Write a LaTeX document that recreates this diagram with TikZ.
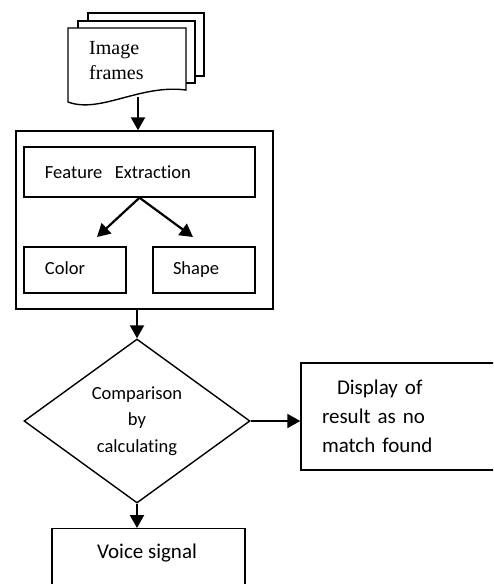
\documentclass[tikz,border=0pt]{standalone}
\usepackage{fontspec}
\setmainfont{Carlito}[Ligatures=NoCommon]
\newfontfamily\docfont{Liberation Serif}
\usetikzlibrary{arrows.meta,shapes.geometric}
\begin{document}
\begin{tikzpicture}[x=1pt,y=-1pt,
  box/.style={draw, line width=1.4pt, rectangle, inner sep=0pt},
  flow/.style={line width=2.2pt, -{Triangle[length=13pt,width=14pt]}},
  sheet/.style={draw, line width=1.4pt, fill=white},
  midtext/.style={font=\fontsize{18.5}{26.5}\selectfont},
  bigtext/.style={font=\fontsize{21}{29}\selectfont}]
\clip (0,0) rectangle (493,584);

% stack of image frames
\draw[sheet] (88,13) rectangle (204,76);
\draw[sheet] (78,21) rectangle (195,83);
\draw[sheet] (68,28) -- (186,28) -- (186,90)
  .. controls (140,84) and (100,114) .. (68,102) -- cycle;
\node[anchor=west, align=left, inner sep=0pt,
  font=\docfont\fontsize{20}{25}\selectfont] (frames) at (89,60.5) {Image\\frames};
\coordinate (docbot) at (138,97);

% feature extraction block
\node[box, minimum width=257pt, minimum height=178pt] (block) at (144.5,220) {};
\node[box, midtext, minimum width=231pt, minimum height=50pt,
  text width=189pt, align=left, inner xsep=21pt] (feat) at (139.5,172) {Feature\ \ Extraction};
\node[box, midtext, minimum width=102pt, minimum height=46pt, text height=13pt, text depth=4pt,
  text width=60pt, align=left, inner xsep=21pt] (color) at (75,270) {Color};
\node[box, midtext, minimum width=102pt, minimum height=46pt, text height=13pt, text depth=4pt,
  text width=62pt, align=left, inner xsep=20pt] (shape) at (204,270) {Shape};
\coordinate (tocolor) at (97,237);
\coordinate (toshape) at (193,237);

% decision
\node[draw, diamond, line width=1.4pt, inner sep=0pt, aspect=1.38,
  minimum width=226pt, minimum height=164pt, align=center, midtext] (dia) at (137,421)
  {Comparison\\by\\calculating};

% outputs
\node[box, bigtext, minimum width=219pt, minimum height=107pt,
  text width=177pt, align=left, inner xsep=21pt] (disp) at (410.5,416.5)
  {\hspace*{15pt}Display of\\result as no\\match found};
\node[box, anchor=north, minimum width=193pt, minimum height=92pt] (voice) at (148.5,528) {};
\node[bigtext, inner sep=0pt] (voicetext) at (147,553) {Voice signal};

% connectors
\draw[flow] (docbot) -- (docbot |- block.north);
\draw[flow] (feat.south) -- (tocolor);
\draw[flow] (feat.south) -- (toshape);
\draw[flow] (block.south -| dia.north) -- (dia.north);
\draw[flow] (dia.east) -- (dia.east -| disp.west);
\draw[flow] (dia.south) -- (dia.south |- voice.north);
\end{tikzpicture}
\end{document}
